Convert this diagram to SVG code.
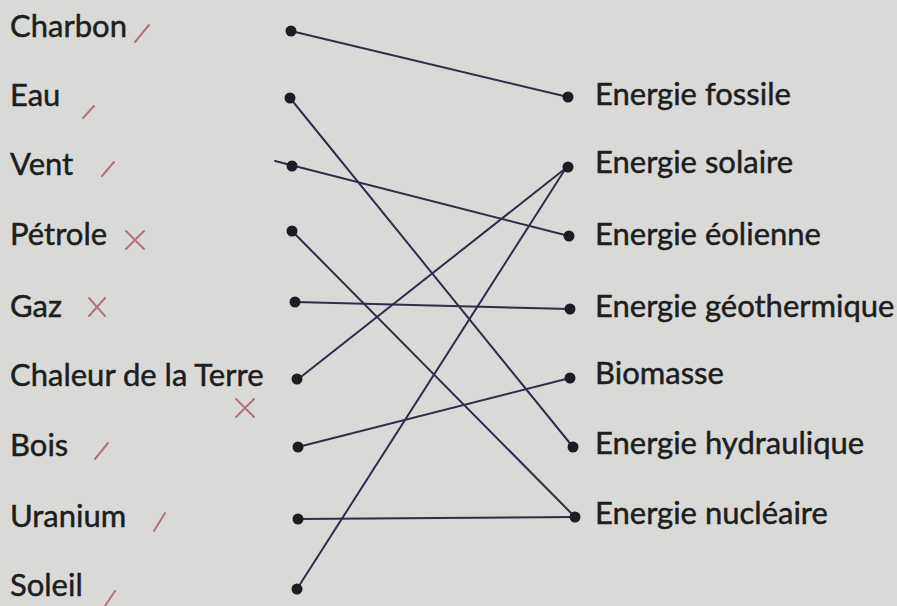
<svg xmlns="http://www.w3.org/2000/svg" width="897" height="606" viewBox="0 0 897 606">
<defs>
<style>
.lbl{font-family:Lato,"Open Sans","Liberation Sans",sans-serif;font-size:31px;fill:#1e1e1e;stroke:#1e1e1e;stroke-width:0.5}
.dot{fill:#1c1c22}
.ln{stroke:#2e2d4a;stroke-width:2;fill:none;stroke-linecap:round}
.mk{stroke:#b07282;stroke-width:2;fill:none;stroke-linecap:round}
</style>
</defs>
<rect x="0" y="0" width="897" height="606" fill="#d9dad8"/>
<g id="connectors">
<line class="ln" x1="291" y1="31" x2="568" y2="97"/>
<line class="ln" x1="290" y1="98" x2="573" y2="447"/>
<line class="ln" x1="275" y1="161" x2="569" y2="236"/>
<line class="ln" x1="292" y1="231" x2="575" y2="517"/>
<line class="ln" x1="295" y1="302" x2="570" y2="309"/>
<line class="ln" x1="297" y1="380" x2="566" y2="168"/>
<line class="ln" x1="298" y1="447" x2="570" y2="378"/>
<line class="ln" x1="298" y1="519" x2="575" y2="517"/>
<line class="ln" x1="297" y1="589" x2="566" y2="168"/>
</g>
<g id="left">
<g id="charbon"><text class="lbl" x="10" y="37">Charbon</text><circle class="dot" cx="291" cy="31" r="5.5"/><line class="mk" x1="135" y1="42" x2="149" y2="25"/></g>
<g id="eau"><text class="lbl" x="10" y="106">Eau</text><circle class="dot" cx="290" cy="98" r="5.5"/><line class="mk" x1="83" y1="118" x2="94" y2="106"/></g>
<g id="vent"><text class="lbl" x="10" y="175">Vent</text><circle class="dot" cx="292" cy="166" r="5.5"/><line class="mk" x1="102" y1="176" x2="114" y2="162"/></g>
<g id="petrole"><text class="lbl" x="10" y="245">Pétrole</text><circle class="dot" cx="292" cy="231" r="5.5"/><path class="mk" d="M126 231L144 249M144 231L126 249"/></g>
<g id="gaz"><text class="lbl" x="10" y="317">Gaz</text><circle class="dot" cx="295" cy="302" r="5.5"/><path class="mk" d="M89 298L105 316M105 298L89 316"/></g>
<g id="chaleur"><text class="lbl" x="10" y="386">Chaleur de la Terre</text><circle class="dot" cx="297" cy="379" r="5.5"/><path class="mk" d="M236 399L254 417M254 399L236 417"/></g>
<g id="bois"><text class="lbl" x="10" y="456">Bois</text><circle class="dot" cx="298" cy="447" r="5.5"/><line class="mk" x1="95" y1="459" x2="108" y2="443"/></g>
<g id="uranium"><text class="lbl" x="10" y="527">Uranium</text><circle class="dot" cx="298" cy="519" r="5.5"/><line class="mk" x1="154" y1="531" x2="165" y2="513"/></g>
<g id="soleil"><text class="lbl" x="10" y="596">Soleil</text><circle class="dot" cx="297" cy="589" r="5.5"/><line class="mk" x1="105" y1="606" x2="115" y2="591"/></g>
</g>
<g id="right">
<g id="fossile"><circle class="dot" cx="568" cy="97" r="5.5"/><text class="lbl" x="595" y="105">Energie fossile</text></g>
<g id="solaire"><circle class="dot" cx="568" cy="167" r="5.5"/><text class="lbl" x="595" y="173">Energie solaire</text></g>
<g id="eolienne"><circle class="dot" cx="569" cy="236" r="5.5"/><text class="lbl" x="595" y="245">Energie éolienne</text></g>
<g id="geothermique"><circle class="dot" cx="570" cy="309" r="5.5"/><text class="lbl" x="595" y="317">Energie géothermique</text></g>
<g id="biomasse"><circle class="dot" cx="570" cy="378" r="5.5"/><text class="lbl" x="595" y="384">Biomasse</text></g>
<g id="hydraulique"><circle class="dot" cx="573" cy="447" r="5.5"/><text class="lbl" x="595" y="454">Energie hydraulique</text></g>
<g id="nucleaire"><circle class="dot" cx="575" cy="517" r="5.5"/><text class="lbl" x="595" y="524">Energie nucléaire</text></g>
</g>
</svg>
